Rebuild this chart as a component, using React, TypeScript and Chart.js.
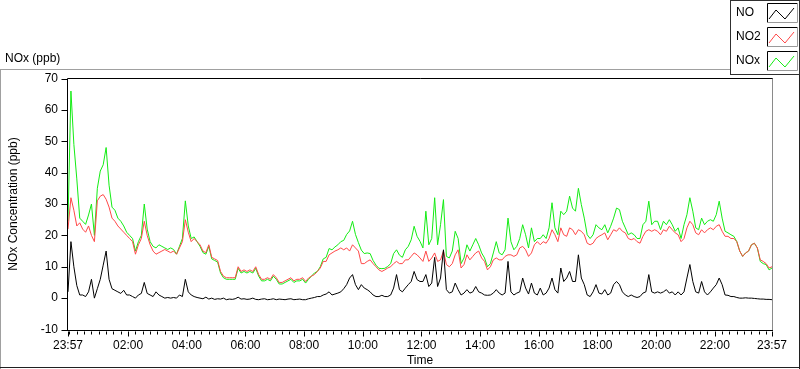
import React, { useEffect, useRef } from "react";
import { Chart, registerables } from "chart.js";

Chart.register(...registerables);

// ---- data (ppb), one sample every 6 minutes starting at 23:57 ----
const SAMPLE_MINUTES = 6;

const NO_PPB = [
  2, 18, 10, 4, 1, 1, 0.5, 2, 6, 0, 3, 6, 10.5, 15, 6, 3, 2.5, 2, 1.5, 2.5,
  1, 1, 0.5, 0, 1, 1.5, 5, 1.5, 1, 0.5, 2, 1, 0.5, 0, 0.2, 0, 0.2, 0, 1, 0.5, 6,
  2, 1, 0.5, 0.2, 0, -0.2, 0.3, -0.3, 0, -0.4, -0.2, -0.3, 0, -0.5, -0.3, -0.4, -0.2, 0.3, -0.3, -0.2,
  -0.4, -0.3, 0, -0.4, -0.5, -0.3, -0.2, -0.5, -0.4, -0.2, -0.5, -0.3, -0.4, -0.5, -0.3, -0.2, -0.5, -0.4, -0.3, -0.5,
  -0.5, -0.2, 0, 0.2, 0.5, 0.5, 1, 1.3, 2, 1, 1.3, 1.6, 2, 3, 4.3, 6.4, 7.5, 4.3, 2.7, 4.3,
  3.2, 2.7, 2, 1, 0.5, 0.5, 0.9, 0.5, 0.5, 1, 3.2, 7.5, 2.7, 2, 3.2, 4.3, 5.3, 8.5, 5.9, 5.3,
  5.3, 7.5, 3.7, 4.8, 13, 3.7, 6.4, 15.4, 2.7, 1.6, 2, 4.8, 2.7, 1, 1.6, 2.7, 1.6, 2, 3.7, 2,
  1.6, 1, 0.9, 1, 1.6, 2.7, 1.6, 1, 1.6, 11.7, 2, 1, 1.6, 2, 6.4, 3.2, 1.3, 4.8, 1.6, 1,
  3.2, 1, 1.6, 3.2, 6.4, 2.7, 1.6, 9.6, 5.3, 6.4, 8.5, 5.3, 5.3, 13.8, 6.4, 4.3, 1, 0.5, 2, 4.3,
  1.6, 1.3, 2.7, 1, 1.6, 4.3, 5.3, 4.3, 2, 1, 0.5, 1, 0.5, 0.2, 0.5, 1.6, 2, 7.5, 2, 1.6,
  2, 1.6, 2, 2.7, 1.6, 2, 1, 2, 1, 2, 6.4, 10.7, 5.3, 2, 1.6, 5.3, 2, 1, 2, 3.2,
  4.3, 6.4, 4.3, 1, 0.9, 0.5, 0.5, 0.2, 0, 0, 0.1, 0, 0, -0.1, -0.2, -0.3, -0.3, -0.4, -0.4, -0.5,
];

const NO2_PPB = [
  22, 32, 28, 23, 24, 22, 21, 23, 20, 18, 31, 32.5, 33, 31.5, 29, 25.5, 24.5, 23, 22, 21,
  20, 19, 18, 14, 17, 19, 24.5, 20, 17, 15, 14, 14.5, 15, 15.5, 15, 14.5, 15, 14, 16, 18, 25,
  21, 18, 19, 18, 17, 15, 14.5, 17, 13, 12.5, 12, 8.5, 7, 6.5, 6.5, 6.5, 6.5, 10, 8.5, 9,
  8.5, 9, 8.5, 10, 7.5, 6, 6, 6.5, 6, 7.5, 6.5, 5, 5, 5.5, 6, 6.5, 5.5, 6, 6, 6.5,
  5.3, 6.4, 7, 7.5, 8.5, 9.6, 11.7, 11.7, 13.8, 14.4, 15, 15.4, 16, 15.4, 16, 15, 17, 16, 15, 11,
  11, 11.7, 12.2, 11, 10, 9, 8.5, 9, 9.6, 10, 11, 11.7, 11, 11, 12.2, 12.2, 13.3, 14.4, 13.8, 12.8,
  11.7, 15, 11.7, 12.8, 14.4, 11.7, 12.2, 15, 10.7, 10, 11, 13.8, 15.4, 9.6, 10.7, 13.8, 12.2, 13.3, 14.4, 15,
  12.8, 11.7, 9, 10, 12.2, 12.8, 12.2, 12.2, 13.3, 13.8, 13.8, 13.3, 13.8, 16, 16.5, 15.4, 13.3, 14.4, 17, 18,
  17, 18, 17.5, 19, 21.8, 20.2, 18, 22.4, 20.2, 19.7, 22.4, 21.8, 20.2, 21.8, 21.3, 20.2, 17.5, 17, 17.5, 19,
  19.7, 20.2, 20.8, 18.6, 20.2, 21.8, 21.3, 22.4, 21.3, 20.8, 19, 18.6, 19, 18, 17.5, 19.7, 21.3, 21.8, 21.3, 21.8,
  21.3, 20.2, 21.8, 21.3, 22.9, 21.8, 20.8, 20.2, 18, 19, 22.4, 24.5, 23.4, 20.8, 20.2, 21.8, 20.8, 21.8, 22.4, 21.8,
  22.9, 23.4, 21.3, 19.7, 19.7, 19, 19, 18, 15, 13.3, 14.4, 15, 17, 17.5, 16, 12.2, 11.7, 11, 9.6, 10,
];

const NOX_PPB = [
  24.5, 66, 49, 38, 25.5, 24.5, 23.5, 26.5, 30, 20, 35, 40.5, 42.5, 48, 36, 29, 28, 25.5, 24.5, 23,
  21, 20, 19, 15, 18, 20, 30, 22, 18, 16.5, 16, 17, 16.5, 16, 15.5, 16, 15.5, 14, 16.5, 19, 31,
  23, 19, 19.5, 18, 16.5, 14.5, 14, 16.5, 12.5, 12, 11.5, 8, 6.5, 6, 6, 6, 6, 9.5, 8, 8.5,
  8, 8.5, 8, 9.5, 7, 5.5, 5.5, 6, 5.5, 7, 6, 4.5, 4.5, 5, 5.5, 6, 5, 5.5, 5.5, 6,
  4.8, 6, 7, 8, 8.5, 10, 12.5, 13, 15.8, 15.4, 16.3, 17, 18, 18.4, 20.3, 21.4, 24.5, 20.3, 17.7, 15.3,
  14.2, 14.4, 14.2, 12, 10.5, 9.5, 9.4, 9.5, 10.1, 11, 14.2, 15.4, 13.7, 13, 15.4, 16.5, 18.6, 22.9, 19.7, 18.1,
  16, 27.7, 17, 19, 32, 17, 23.4, 31.4, 13.3, 12.8, 15, 21.3, 19, 11, 12.8, 17, 15, 17, 19, 17,
  14.4, 12.8, 10, 11, 14.4, 18, 14.4, 13.8, 15.4, 25.5, 18, 15.4, 16.5, 19, 23.4, 20.2, 16, 22.4, 18, 19,
  19, 20.2, 19, 22.4, 30.4, 22.4, 20.2, 27.7, 26.6, 27.7, 32.5, 28.7, 27.7, 35, 29.8, 25.5, 20.2, 19, 20.2, 23.4,
  22.4, 21.8, 23.4, 20.8, 22.9, 25.5, 28.7, 28.2, 24.5, 22.4, 20.2, 20.8, 20.2, 19, 19, 23.4, 24.5, 30.9, 23.4, 24.5,
  24.5, 21.8, 24.5, 23.4, 25, 23.4, 21.3, 22.4, 19, 23.4, 26.6, 32, 27.7, 22.4, 21.8, 25.5, 23.4, 24.5, 25, 24.5,
  26.6, 30.9, 25.5, 21.3, 20.8, 20.2, 19.7, 18, 15, 13.3, 14.4, 15, 17, 17.5, 16, 11.7, 11, 10.7, 9, 9.6,
];

const SERIES_NAMES = ["NO", "NO2", "NOx"];
const SERIES_COLORS = ["#000000", "#ff4848", "#14ec14"];

const X_MIN = 0;
const X_MAX = 1440;
const MAJOR_TICK_MINUTES = [0, 123, 243, 363, 483, 603, 723, 843, 963, 1083, 1203, 1323, 1440];
const MAJOR_TICK_LABELS = ["23:57", "02:00", "04:00", "06:00", "08:00", "10:00", "12:00", "14:00", "16:00", "18:00", "20:00", "22:00", "23:57"];
const MINOR_TICK_START = 3;
const MINOR_TICK_STEP = 15;

const Y_MIN = -10;
const Y_MAX = 70;
const Y_STEP = 10;

const CHART_TITLE = "NOx (ppb)";
const Y_TITLE = "NOx Concentration (ppb)";
const X_TITLE = "Time";

const FONT = "Liberation Sans, Arial, sans-serif";

function toPoints(values: number[]) {
  return values.map((v, i) => ({ x: i * SAMPLE_MINUTES, y: v }));
}

const framePlugin = {
  id: "labviewFrame",
  beforeDraw(chart: any) {
    const ctx = chart.ctx;
    ctx.save();
    ctx.fillStyle = "#ffffff";
    ctx.fillRect(0, 0, chart.width, chart.height);
    ctx.restore();
  },
  afterDraw(chart: any) {
    const ctx = chart.ctx;
    const { left, right, top, bottom } = chart.chartArea;
    const xs = chart.scales.x;
    const ys = chart.scales.y;
    ctx.save();
    ctx.lineWidth = 1;

    const line = (x1: number, y1: number, x2: number, y2: number, c: string) => {
      ctx.strokeStyle = c;
      ctx.beginPath();
      ctx.moveTo(x1, y1);
      ctx.lineTo(x2, y2);
      ctx.stroke();
    };

    // outer panel frame
    line(0, 69.5, 730, 69.5, "#a0a0a0");
    line(0.5, 69, 0.5, 369, "#a0a0a0");
    line(0, 367.5, 800, 367.5, "#202020");
    line(799.5, 74, 799.5, 369, "#202020");

    // plot frame
    const L = Math.round(left) - 0.5;
    const R = Math.round(right) + 0.5;
    const T = Math.round(top) - 0.5;
    const B = Math.round(bottom) + 0.5;
    line(L, T, R + 0.5, T, "#000000");
    line(L, T, L, B + 0.5, "#000000");
    line(R, T, R, B + 0.5, "#8a8a8a");
    line(L, B, R + 0.5, B, "#000000");

    // x ticks
    const majorSet = new Set(MAJOR_TICK_MINUTES);
    const xTicks: number[] = [X_MIN];
    for (let m = MINOR_TICK_START; m < X_MAX; m += MINOR_TICK_STEP) xTicks.push(m);
    xTicks.push(X_MAX);
    for (const m of xTicks) {
      const px = Math.round(xs.getPixelForValue(m)) + 0.5;
      const len = majorSet.has(m) ? 5 : 3;
      line(px, B + 1, px, B + 1 + len, "#000000");
    }
    // y ticks
    for (let v = Y_MIN; v <= Y_MAX; v += Y_STEP) {
      const py = Math.round(ys.getPixelForValue(v)) + 0.5;
      line(L - 6, py, L, py, "#000000");
    }

    // titles
    ctx.fillStyle = "#000000";
    ctx.font = `12px ${FONT}`;
    ctx.textAlign = "left";
    ctx.textBaseline = "alphabetic";
    ctx.fillText(CHART_TITLE, 5, 62);

    ctx.textAlign = "center";
    ctx.textBaseline = "middle";
    ctx.fillText(X_TITLE, (left + right) / 2, 361);

    ctx.save();
    ctx.translate(14, (top + bottom) / 2);
    ctx.rotate(-Math.PI / 2);
    ctx.fillText(Y_TITLE, 0, 0);
    ctx.restore();

    // legend box
    ctx.strokeStyle = "#303030";
    ctx.strokeRect(730.5, 0.5, 69, 74);
    const boxTops = [3, 27, 51];
    SERIES_NAMES.forEach((name, i) => {
      const bt = boxTops[i];
      ctx.fillStyle = "#000000";
      ctx.textAlign = "left";
      ctx.textBaseline = "middle";
      ctx.fillText(name, 736, bt + 10);
      // icon box
      line(767.5, bt + 0.5, 797.5, bt + 0.5, "#000000");
      line(767.5, bt + 0.5, 767.5, bt + 19.5, "#000000");
      line(767.5, bt + 19.5, 797.5, bt + 19.5, "#9a9a9a");
      line(797.5, bt + 0.5, 797.5, bt + 19.5, "#9a9a9a");
      ctx.strokeStyle = SERIES_COLORS[i];
      ctx.beginPath();
      ctx.moveTo(769, bt + 16);
      ctx.lineTo(776, bt + 7);
      ctx.lineTo(785, bt + 16);
      ctx.lineTo(794, bt + 5);
      ctx.stroke();
    });

    ctx.restore();
  },
};

export default function App() {
  const canvasRef = useRef<HTMLCanvasElement | null>(null);

  useEffect(() => {
    document.body.style.margin = "0";
    const canvas = canvasRef.current;
    if (!canvas) return;
    const seriesValues = [NO_PPB, NO2_PPB, NOX_PPB];
    const chart = new Chart(canvas, {
      type: "line",
      data: {
        datasets: SERIES_NAMES.map((name, i) => ({
          label: name,
          data: toPoints(seriesValues[i]),
          borderColor: SERIES_COLORS[i],
          backgroundColor: SERIES_COLORS[i],
          borderWidth: 1,
          pointRadius: 0,
          tension: 0,
          fill: false,
        })),
      },
      options: {
        animation: false,
        responsive: false,
        devicePixelRatio: 1,
        events: [],
        layout: { padding: { left: 0, top: 78.5, right: 28, bottom: 0 } },
        plugins: {
          legend: { display: false },
          tooltip: { enabled: false },
          title: { display: false },
        },
        scales: {
          x: {
            type: "linear",
            min: X_MIN,
            max: X_MAX,
            grid: { display: false, drawTicks: false },
            border: { display: false },
            afterBuildTicks: (scale: any) => {
              scale.ticks = MAJOR_TICK_MINUTES.map((v) => ({ value: v }));
            },
            afterFit: (scale: any) => {
              scale.height = 39.5;
            },
            ticks: {
              autoSkip: false,
              maxRotation: 0,
              minRotation: 0,
              padding: 9,
              color: "#000000",
              font: { family: FONT, size: 12 },
              callback: (value: any) => {
                const idx = MAJOR_TICK_MINUTES.indexOf(Number(value));
                return idx >= 0 ? MAJOR_TICK_LABELS[idx] : "";
              },
            },
          },
          y: {
            type: "linear",
            min: Y_MIN,
            max: Y_MAX,
            grid: { display: false, drawTicks: false },
            border: { display: false },
            afterFit: (scale: any) => {
              scale.width = 68;
            },
            ticks: {
              stepSize: Y_STEP,
              padding: 10,
              color: "#000000",
              font: { family: FONT, size: 12 },
            },
          },
        },
      },
      plugins: [framePlugin],
    } as any);
    return () => chart.destroy();
  }, []);

  return (
    <div style={{ position: "fixed", left: 0, top: 0, width: 800, height: 369, background: "#fff" }}>
      <canvas ref={canvasRef} width={800} height={369} style={{ display: "block" }} />
    </div>
  );
}
